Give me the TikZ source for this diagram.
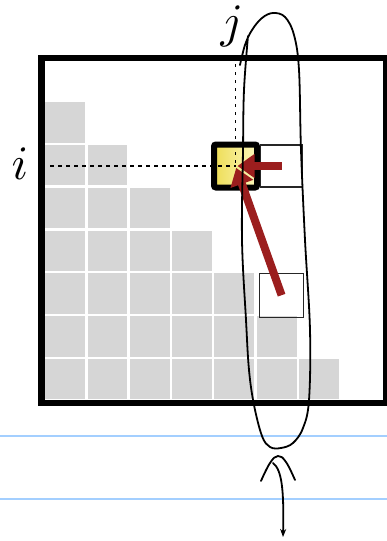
\documentclass[tikz,border=0pt]{standalone}
\usepackage{tikz}
\usetikzlibrary{arrows.meta,positioning}
\definecolor{Brick}{HTML}{9B1E1E}
\definecolor{Ash}{HTML}{D6D6D6}
\definecolor{Butter}{HTML}{EEDD55}
\definecolor{Cream}{HTML}{FBF7BC}
\definecolor{Ruled}{HTML}{A3CFFF}

\begin{document}
\begin{tikzpicture}[x=1pt,y=-1pt,>=Latex,
    cell/.style={fill=Ash,draw=white,line width=2.4pt},
    slot/.style={draw=black!85,line width=1.2pt,minimum size=42pt,inner sep=0pt},
    guide/.style={black,line width=1.5pt,dash pattern=on 4pt off 4pt},
    pull/.style={draw=Brick,line width=8pt,-{Triangle[length=17pt,width=23pt]}},
    pen/.style={line width=1.8pt,line cap=round,line join=round}]
      \path[use as bounding box,clip] (0,0) rectangle (387,541);
      % ruled paper
      \draw[Ruled,line width=2pt] (0,436) -- (387,436);
      \draw[Ruled,line width=2pt] (0,499) -- (387,499);
      % lower triangle of the table
      \foreach \r in {1,...,7}
        \foreach \c in {1,...,\r}
          \path[cell] ({44+(\c-1)*42.3},{101+(\r-1)*42.8}) rectangle ++(42.3,42.8);
      \draw[line width=6.5pt] (41.5,58) rectangle (386,403);
      % current entry and its two sources
      \node[draw=black,line width=6pt,rounded corners=2pt,minimum size=43pt,inner sep=0pt,
            left color=Butter,right color=Cream] (cur) at (235.5,166) {};
      \node[slot,right=0pt of cur] (nbr) {};
      \node[slot,minimum size=44pt,below=85pt of nbr] (low) {};
      \node[scale=4.8] (j) at (232,26) {$j$};
      \node[scale=4.8] (i) at (20,164) {$i$};
      \coordinate (iend) at (50,166);
      \coordinate (jend) at (235.5,64);
      \draw[guide] (iend) -- (cur.center);
      \draw[guide,dash pattern=on 3pt off 5pt] (jend) -- (cur.center);
      \draw[pull,shorten >=2pt] (nbr.center) -- (cur.center);
      \draw[pull,shorten >=2pt] (low.center) -- (cur.center);
      % pen marks
      \draw[pen] plot[smooth,tension=0.6] coordinates {(240,65) (245,45) (252,30) (262,18)
        (273,13) (285,17) (294,35) (299,70) (301,150) (305,240) (310,330) (309,400)
        (303,428) (293,443) (281,448) (270,447) (262,436) (254,405) (249,370) (246,320)
        (242,240) (243,150) (244,90) (248,36)};
      \draw[pen] plot[smooth,tension=0.7] coordinates {(261,481) (270,463) (278,456) (286,462) (295,480)};
      \draw[pen,-{Stealth[length=8pt,width=6pt]}] (273,463) .. controls (282,470) and (284,490) .. (283,537);
    \end{tikzpicture}
\end{document}
